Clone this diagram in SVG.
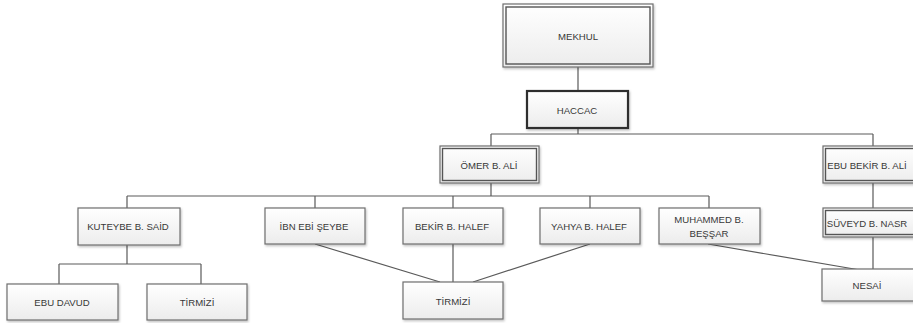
<svg xmlns="http://www.w3.org/2000/svg" width="913" height="323" viewBox="0 0 913 323">
<defs>
<linearGradient id="g" x1="0" y1="0" x2="0" y2="1">
<stop offset="0" stop-color="#ffffff"/>
<stop offset="1" stop-color="#ececec"/>
</linearGradient>
<filter id="sh" x="-10%" y="-10%" width="130%" height="140%">
<feDropShadow dx="1" dy="1.5" stdDeviation="1" flood-color="#000" flood-opacity="0.25"/>
</filter>
</defs>
<style>
.b{fill:url(#g);stroke:#6e6e6e;stroke-width:1.2;filter:url(#sh)}
.i{fill:none;stroke:#555;stroke-width:1.4}
.k{fill:url(#g);stroke:#2e2e2e;stroke-width:2.2;filter:url(#sh)}
.t{font-family:"Liberation Sans",Arial,sans-serif;font-size:9.6px;fill:#383838;text-anchor:middle;dominant-baseline:central}
.c{fill:none;stroke:#5a5a5a;stroke-width:1.2}
</style>
<g id="connectors">
<path class="c" d="M578 67V91M578 128V134M491 134H873M491 134V146M873 134V146M491 183V196M127 196H709M127 196V208M315 196V208M453 196V208M590 196V208M709 196V208M127 245V264M59 264H201M59 264V284M201 264V284M873 183V208M873 237V269"/>
<path class="c" d="M315 244L440 282M453 244V282M590 244L473 282M708 244L860 270"/>
</g>
<g id="mekhul"><rect class="b" x="503" y="4" width="150" height="63"/><rect class="i" x="506" y="7" width="144" height="57"/><text class="t" x="578" y="36">MEKHUL</text></g>
<g id="haccac"><rect class="k" x="527" y="91" width="101" height="37"/><text class="t" x="577" y="110">HACCAC</text></g>
<g id="omer"><rect class="b" x="440" y="146" width="99" height="37"/><rect class="i" x="442.5" y="148.5" width="94" height="32"/><text class="t" x="489" y="165">ÖMER B. ALİ</text></g>
<g id="ebubekir"><rect class="b" x="823" y="146" width="92" height="37"/><rect class="i" x="825.5" y="148.5" width="90" height="32"/><text class="t" x="867" y="165">EBU BEKİR B. ALİ</text></g>
<g id="suveyd"><rect class="b" x="823" y="208" width="92" height="29"/><rect class="i" x="825.5" y="210.5" width="90" height="24"/><text class="t" x="867" y="223">SÜVEYD B. NASR</text></g>
<g id="kuteybe"><rect class="b" x="78" y="208" width="102" height="37"/><text class="t" x="128" y="226">KUTEYBE B. SAİD</text></g>
<g id="ibnebiseybe"><rect class="b" x="265" y="208" width="100" height="36"/><text class="t" x="314" y="226">İBN EBİ ŞEYBE</text></g>
<g id="bekir"><rect class="b" x="403" y="208" width="100" height="36"/><text class="t" x="452" y="226">BEKİR B. HALEF</text></g>
<g id="yahya"><rect class="b" x="540" y="208" width="100" height="36"/><text class="t" x="589" y="226">YAHYA B. HALEF</text></g>
<g id="muhammed"><rect class="b" x="659" y="208" width="101" height="36"/><text class="t" x="709" y="219">MUHAMMED B.</text><text class="t" x="709" y="233">BEŞŞAR</text></g>
<g id="ebudavud"><rect class="b" x="7" y="284" width="111" height="36"/><text class="t" x="62" y="302">EBU DAVUD</text></g>
<g id="tirmizi1"><rect class="b" x="147" y="284" width="100" height="36"/><text class="t" x="197" y="302">TİRMİZİ</text></g>
<g id="tirmizi2"><rect class="b" x="403" y="282" width="100" height="37"/><text class="t" x="453" y="301">TİRMİZİ</text></g>
<g id="nesai"><rect class="b" x="822" y="269" width="92" height="32"/><text class="t" x="867" y="285">NESAİ</text></g>
</svg>
